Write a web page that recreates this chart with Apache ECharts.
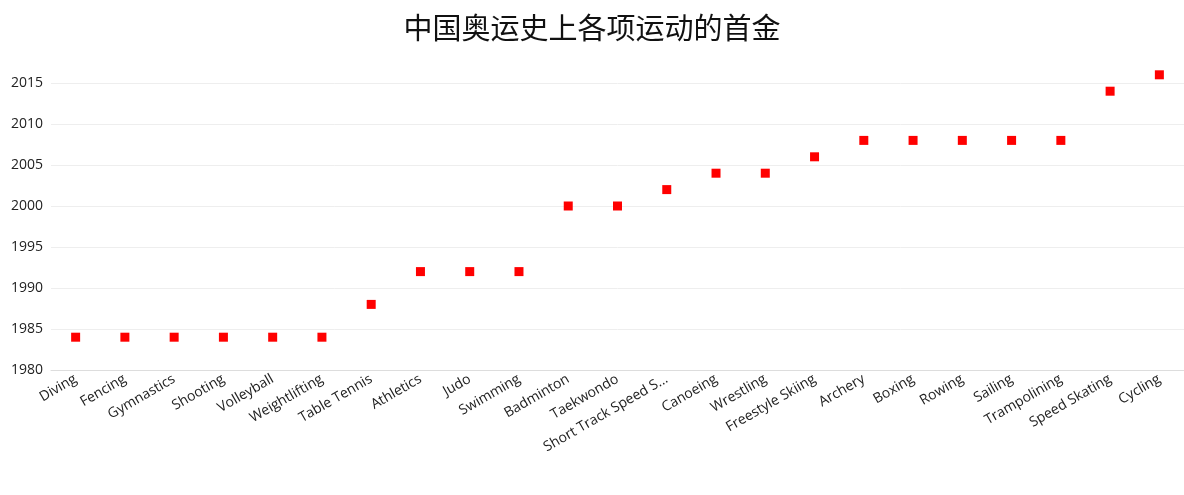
<!DOCTYPE html><html><head><meta charset="utf-8"><script src="https://cdn.jsdelivr.net/npm/echarts@6/dist/echarts.min.js"></script></head><body style="margin:0"><div id="c" style="width:1184px;height:495px"></div><script>
const categories=["Diving","Fencing","Gymnastics","Shooting","Volleyball","Weightlifting","Table Tennis","Athletics","Judo","Swimming","Badminton","Taekwondo","Short Track Speed Skating","Canoeing","Wrestling","Freestyle Skiing","Archery","Boxing","Rowing","Sailing","Trampolining","Speed Skating","Cycling"];
const years=[1984,1984,1984,1984,1984,1984,1988,1992,1992,1992,2000,2000,2002,2004,2004,2006,2008,2008,2008,2008,2008,2014,2016];
const c=echarts.init(document.getElementById('c'));
c.setOption({title:{text:'中国奥运史上各项运动的首金',left:'center',top:8,textStyle:{fontSize:29,fontWeight:'normal',color:'#111',fontFamily:'Noto Sans CJK SC'}},
grid:{left:51,right:0,top:83,bottom:125},
xAxis:{type:'category',data:categories,axisTick:{show:false},axisLine:{lineStyle:{color:'#ddd'}},axisLabel:{rotate:30,interval:0,fontSize:14,color:'#222',fontFamily:'Open Sans',width:145,overflow:'truncate'}},
yAxis:{type:'value',min:1980,max:2015,interval:5,axisLabel:{fontSize:14,color:'#222',fontFamily:'Open Sans',formatter:v=>String(v)},splitLine:{lineStyle:{color:'#eee'}}},
series:[{type:'scatter',data:years,clip:false,symbol:'rect',symbolSize:9,itemStyle:{color:'#f00',opacity:1}}]});
</script></body></html>
